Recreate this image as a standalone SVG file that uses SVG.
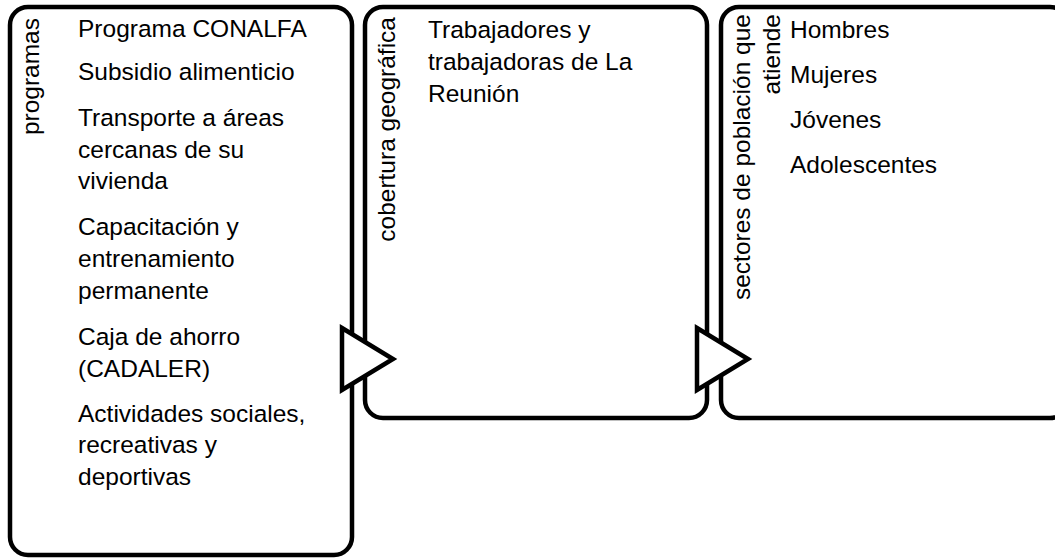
<svg xmlns="http://www.w3.org/2000/svg" width="1055" height="558" viewBox="0 0 1055 558">
<style>
.box{fill:#fff;stroke:#000;stroke-width:4.5}
.arr{fill:#fff;stroke:#000;stroke-width:4.5;stroke-linejoin:miter}
.t{font-family:"Liberation Sans",Arial,sans-serif;font-size:24.5px;fill:#000}
.v{font-family:"Liberation Sans",Arial,sans-serif;font-size:24.5px;fill:#000;text-anchor:end}
</style>
<rect width="1055" height="558" fill="#fff"/>
<g id="node-programas">
<rect class="box" x="10" y="7" width="342" height="548" rx="18"/>
<text class="v" transform="translate(39,18) rotate(-90)">programas</text>
<text class="t" x="78" y="37">Programa CONALFA</text>
<text class="t" x="78" y="80">Subsidio alimenticio</text>
<text class="t" x="78" y="126">Transporte a áreas</text>
<text class="t" x="78" y="158">cercanas de su</text>
<text class="t" x="78" y="189">vivienda</text>
<text class="t" x="78" y="235">Capacitación y</text>
<text class="t" x="78" y="267">entrenamiento</text>
<text class="t" x="78" y="299">permanente</text>
<text class="t" x="78" y="345">Caja de ahorro</text>
<text class="t" x="78" y="377">(CADALER)</text>
<text class="t" x="78" y="422">Actividades sociales,</text>
<text class="t" x="78" y="453">recreativas y</text>
<text class="t" x="78" y="485">deportivas</text>
</g>
<g id="node-cobertura">
<rect class="box" x="365" y="7" width="342" height="411" rx="18"/>
<text class="v" transform="translate(395,17) rotate(-90)">cobertura geográfica</text>
<text class="t" x="428" y="38">Trabajadores y</text>
<text class="t" x="428" y="70">trabajadoras de La</text>
<text class="t" x="428" y="102">Reunión</text>
</g>
<g id="node-sectores">
<rect class="box" x="721" y="7" width="347" height="411" rx="18"/>
<text class="v" transform="translate(750,14) rotate(-90)">sectores de población que</text>
<text class="v" transform="translate(780,14) rotate(-90)">atiende</text>
<text class="t" x="790" y="38">Hombres</text>
<text class="t" x="790" y="83">Mujeres</text>
<text class="t" x="790" y="128">Jóvenes</text>
<text class="t" x="790" y="173">Adolescentes</text>
</g>
<g id="connectors">
<polygon class="arr" points="342,328 393,359 342,390"/>
<polygon class="arr" points="697,328 748,359 697,390"/>
</g>
</svg>
